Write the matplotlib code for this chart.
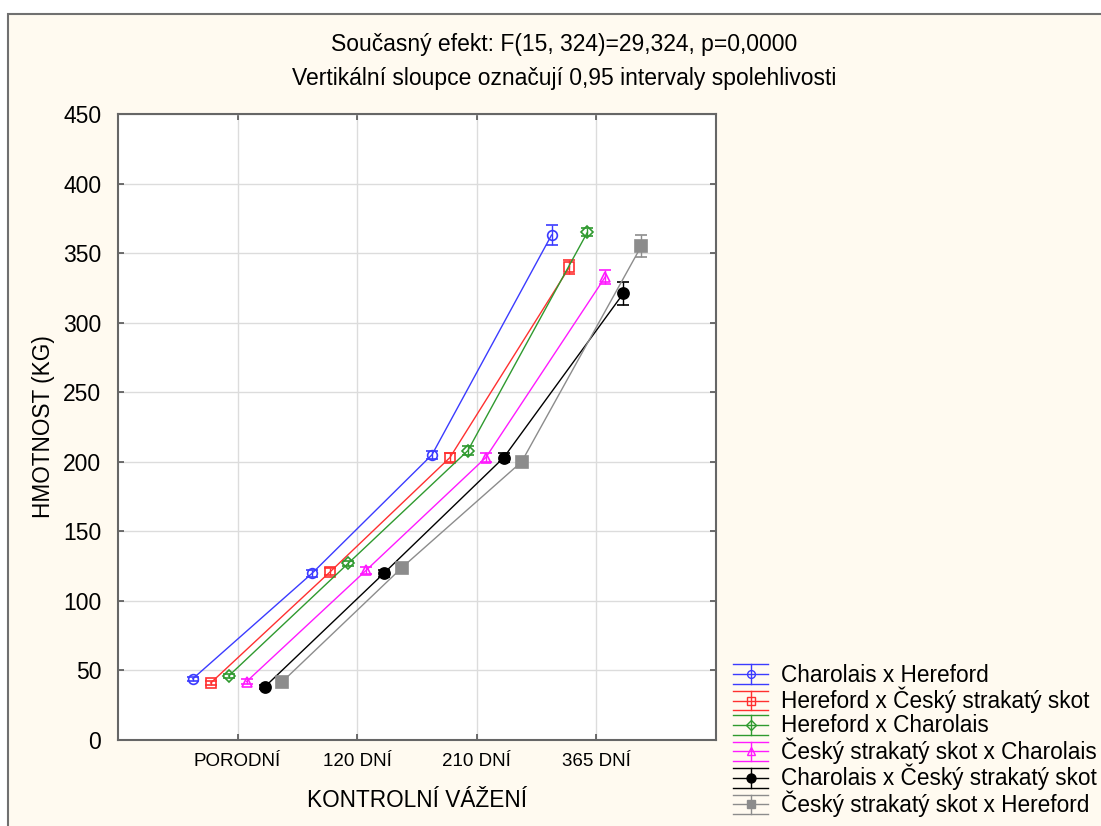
import numpy as np
import matplotlib
matplotlib.use("Agg")
import matplotlib.pyplot as plt
from matplotlib.patches import Rectangle
from matplotlib.lines import Line2D
from matplotlib.legend_handler import HandlerBase

plt.rcParams['font.family'] = ['Liberation Sans', 'DejaVu Sans']

# weighing times on the x axis
categories = ['PORODNÍ', '120 DNÍ', '210 DNÍ', '365 DNÍ']

# group names, means and half widths of the 0.95 intervals (kg)
groups = ['Charolais x Hereford',
          'Hereford x Český strakatý skot',
          'Hereford x Charolais',
          'Český strakatý skot x Charolais',
          'Charolais x Český strakatý skot',
          'Český strakatý skot x Hereford']
mean_ch_he = [44, 120, 205, 363]
mean_he_cs = [41, 121, 203, 340]
mean_he_ch = [46, 127, 208, 365]
mean_cs_ch = [42, 122, 203, 333]
mean_ch_cs = [38, 120, 203, 321]
mean_cs_he = [42, 124, 200, 355]
ci_ch_he = [1.5, 2.5, 3, 7]
ci_he_cs = [1.5, 2.5, 3, 5]
ci_he_ch = [1.5, 2, 3, 3]
ci_cs_ch = [1.5, 2.5, 3, 5]
ci_ch_cs = [1.5, 2.5, 3, 8]
ci_cs_he = [1.5, 2.5, 3, 8]

means = [mean_ch_he, mean_he_cs, mean_he_ch, mean_cs_ch, mean_ch_cs, mean_cs_he]
cis = [ci_ch_he, ci_he_cs, ci_he_ch, ci_cs_ch, ci_ch_cs, ci_cs_he]

colors = ['#3b3bff', '#ff3030', '#2f9a2f', '#ff1aff', '#000000', '#8c8c8c']
markers = ['o', 's', 'D', '^', 'o', 's']
fills = [False, False, False, False, True, True]
msizes = [7, 7, 6, 7, 8, 8]
offsets = [-0.375, -0.225, -0.075, 0.075, 0.225, 0.375]


class CapHandler(HandlerBase):
    # legend key like the original: wide caps above and below the marker
    def create_artists(self, legend, orig, xdescent, ydescent, width, height, fontsize, trans):
        c = orig.get_color()
        ym = height / 2 - ydescent
        h = 7.0
        x0, x1 = -xdescent, -xdescent + width
        xm = (x0 + x1) / 2
        arts = [Line2D([x0, x1], [ym, ym], color=c, lw=1.0),
                Line2D([x0, x1], [ym + h, ym + h], color=c, lw=1.0),
                Line2D([x0, x1], [ym - h, ym - h], color=c, lw=1.0),
                Line2D([xm, xm], [ym - h, ym + h], color=c, lw=1.0),
                Line2D([xm], [ym], marker=orig.get_marker(), ms=orig.get_markersize() * 0.8,
                       mfc=orig.get_markerfacecolor(), mec=c, mew=1.0, ls='none')]
        for a in arts:
            a.set_transform(trans)
        return arts


W, H = 1101, 826
fig = plt.figure(figsize=(W / 100, H / 100), dpi=100)
fig.patch.set_facecolor('white')
fig.patches.append(Rectangle((8 / W, -0.1), 1.2, 1 - 14 / H + 0.1,
                             transform=fig.transFigure, facecolor='#fffaf0',
                             edgecolor='#707070', lw=1.5, zorder=-10))

ax = fig.add_axes([118 / W, 1 - 740 / H, (716 - 118) / W, (740 - 114) / H])
ax.set_facecolor('white')

x = np.arange(1, len(categories) + 1)
proxies = []
for name, m, e, c, mk, f, ms, off in zip(groups, means, cis, colors, markers, fills, msizes, offsets):
    ax.errorbar(x + off, m, yerr=e, color=c, marker=mk, ms=ms,
                mfc=c if f else 'none', mec=c, mew=1.2, lw=1.0,
                elinewidth=1.0, capsize=4.5, capthick=1.0, zorder=3)
    proxies.append(Line2D([], [], color=c, marker=mk, ms=ms, mfc=c if f else 'none', label=name))

ax.set_xlim(0, 5)
ax.set_ylim(0, 450)
ax.set_xticks(x)
ax.set_xticklabels(categories, fontsize=13.5)
ax.set_yticks(np.arange(0, 451, 50))
ax.tick_params(axis='y', labelsize=16.5, pad=12)
ax.tick_params(axis='x', pad=9)
ax.tick_params(direction='in', length=4, width=1.2, color='#555555',
               top=True, right=True)
ax.grid(True, color='#dcdcdc', lw=1.0)
ax.set_axisbelow(True)
for s in ax.spines.values():
    s.set_color('#666666')
    s.set_linewidth(1.5)

ax.set_xlabel('KONTROLNÍ VÁŽENÍ', fontsize=16.3, labelpad=14)
ax.set_ylabel('HMOTNOST (KG)', fontsize=16.3, labelpad=6)

fig.text(564 / W, 1 - 45 / H, 'Současný efekt: F(15, 324)=29,324, p=0,0000',
         ha='center', va='center', fontsize=16.5)
fig.text(564 / W, 1 - 78 / H, 'Vertikální sloupce označují 0,95 intervaly spolehlivosti',
         ha='center', va='center', fontsize=16.5)

fig.legend(handles=proxies, handler_map={Line2D: CapHandler()},
           loc='lower left', bbox_to_anchor=(733 / W, 1 - 817 / H),
           frameon=False, fontsize=16.3, handlelength=1.55, handletextpad=0.55,
           handleheight=1.2, labelspacing=0.0, borderaxespad=0, borderpad=0)

fig.savefig('out.png', dpi=100)
